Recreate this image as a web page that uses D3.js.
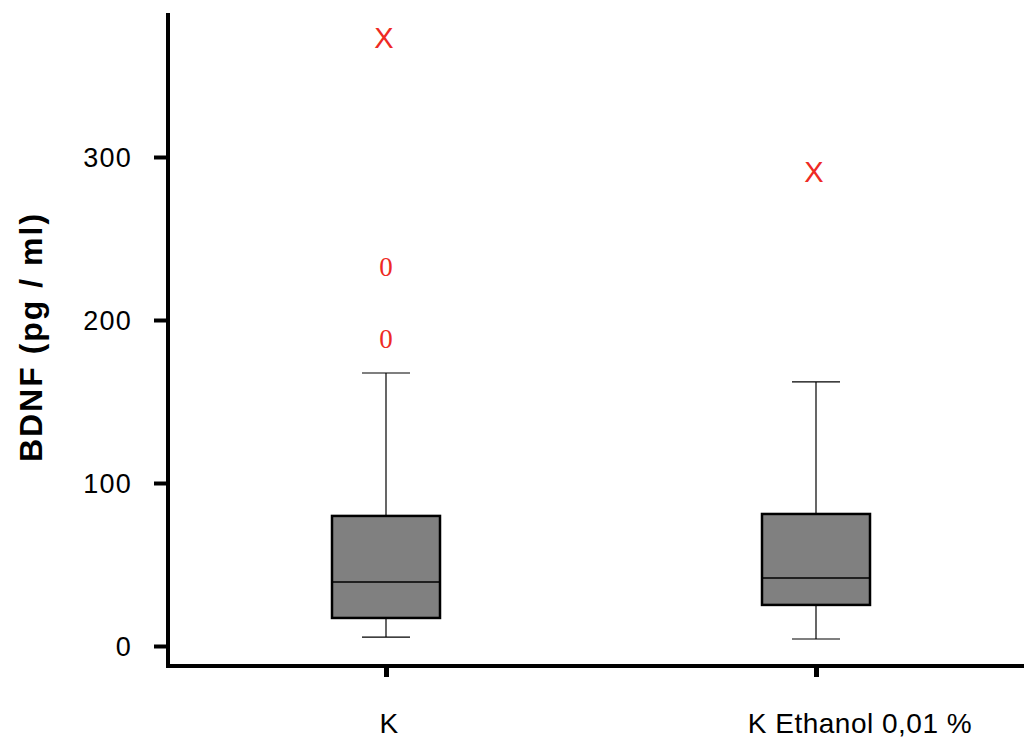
<!DOCTYPE html>
<html>
<head>
<meta charset="utf-8">
<script src="https://cdn.jsdelivr.net/npm/d3@7"></script>
<style>
  body { margin: 0; background: #fff; }
  svg { display: block; }
</style>
</head>
<body>
<svg id="chart" width="1024" height="738"></svg>
<script>
// Groups and their five-number summaries (pg/ml)
const categories = ["K", "K Ethanol 0,01 %"];
const whiskerLow = [5.5, 4.3];
const q1 = [17.2, 25.2];
const median = [39.3, 41.7];
const q3 = [79.8, 81.0];
const whiskerHigh = [167.5, 162.0];
// Outliers ("0") and extreme values ("X")
const outliers = [[188.3, 232.5], []];
const extremes = [[373.0], [290.8]];
const yTicks = [0, 100, 200, 300];
const yLabel = "BDNF (pg / ml)";

const svg = d3.select("#chart");
const sans = "Liberation Sans, Arial, Helvetica, sans-serif";

const y = d3.scaleLinear().domain([0, 300]).range([646, 157]);
const x = d3.scalePoint().domain(categories).range([386, 816]);

const axisX0 = 168, axisY0 = 666;
const boxHalf = 54, capHalf = 24;
// horizontal nudge of each category label relative to its tick
const labelShift = [3, 44];

// Axis spines
svg.append("line")
  .attr("x1", axisX0).attr("x2", axisX0)
  .attr("y1", 13).attr("y2", axisY0 + 2)
  .attr("stroke", "#000").attr("stroke-width", 4);
svg.append("line")
  .attr("x1", axisX0 - 2).attr("x2", 1024)
  .attr("y1", axisY0).attr("y2", axisY0)
  .attr("stroke", "#000").attr("stroke-width", 4);

// Y axis ticks and labels
const yAxis = d3.axisLeft(y).tickValues(yTicks).tickSize(14).tickPadding(22)
  .tickFormat(d3.format("d"));
const gy = svg.append("g").attr("transform", `translate(${axisX0},0)`).call(yAxis);
gy.select(".domain").remove();
gy.selectAll(".tick line").attr("stroke", "#000").attr("stroke-width", 4);
gy.selectAll(".tick text")
  .attr("fill", "#000")
  .attr("dy", "0.36em")
  .style("font-family", sans)
  .style("font-size", "27px")
  .style("letter-spacing", "1.2px");

// X axis ticks
const xAxis = d3.axisBottom(x).tickSize(11).tickFormat("");
const gx = svg.append("g").attr("transform", `translate(0,${axisY0})`).call(xAxis);
gx.select(".domain").remove();
gx.selectAll(".tick line").attr("stroke", "#000").attr("stroke-width", 5);

// X category labels
svg.append("g").selectAll("text")
  .data(categories)
  .join("text")
  .attr("x", (d, i) => x(d) + labelShift[i])
  .attr("y", 733)
  .attr("text-anchor", "middle")
  .attr("fill", "#000")
  .style("font-family", sans)
  .style("font-size", "28px")
  .style("letter-spacing", "0.5px")
  .text(d => d);

// Y axis title
svg.append("text")
  .attr("transform", "translate(42,337) rotate(-90)")
  .attr("text-anchor", "middle")
  .style("font-family", sans)
  .style("font-size", "32px")
  .style("font-weight", "bold")
  .style("letter-spacing", "2px")
  .text(yLabel);

// Boxes
const groups = svg.append("g").selectAll("g")
  .data(categories.map((c, i) => ({
    c, lo: whiskerLow[i], q1: q1[i], med: median[i], q3: q3[i], hi: whiskerHigh[i],
    out: outliers[i], ext: extremes[i]
  })))
  .join("g");

// whiskers
groups.append("line")
  .attr("x1", d => x(d.c)).attr("x2", d => x(d.c))
  .attr("y1", d => y(d.hi)).attr("y2", d => y(d.q3))
  .attr("stroke", "#000").attr("stroke-width", 1.2);
groups.append("line")
  .attr("x1", d => x(d.c)).attr("x2", d => x(d.c))
  .attr("y1", d => y(d.q1)).attr("y2", d => y(d.lo))
  .attr("stroke", "#000").attr("stroke-width", 1.2);
groups.append("line")
  .attr("x1", d => x(d.c) - capHalf).attr("x2", d => x(d.c) + capHalf)
  .attr("y1", d => y(d.hi)).attr("y2", d => y(d.hi))
  .attr("stroke", "#000").attr("stroke-width", 1.2);
groups.append("line")
  .attr("x1", d => x(d.c) - capHalf).attr("x2", d => x(d.c) + capHalf)
  .attr("y1", d => y(d.lo)).attr("y2", d => y(d.lo))
  .attr("stroke", "#000").attr("stroke-width", 1.2);

// box
groups.append("rect")
  .attr("x", d => x(d.c) - boxHalf)
  .attr("width", boxHalf * 2)
  .attr("y", d => y(d.q3))
  .attr("height", d => y(d.q1) - y(d.q3))
  .attr("fill", "#808080")
  .attr("stroke", "#000").attr("stroke-width", 2.5);

// median
groups.append("line")
  .attr("x1", d => x(d.c) - boxHalf).attr("x2", d => x(d.c) + boxHalf)
  .attr("y1", d => y(d.med)).attr("y2", d => y(d.med))
  .attr("stroke", "#000").attr("stroke-width", 1.4);

// outliers
groups.selectAll("text.out")
  .data(d => d.out.map(v => ({ c: d.c, v })))
  .join("text")
  .attr("class", "out")
  .attr("x", d => x(d.c))
  .attr("y", d => y(d.v))
  .attr("dy", "0.33em")
  .attr("text-anchor", "middle")
  .attr("fill", "#ee2a24")
  .style("font-family", "Liberation Serif, Times New Roman, serif")
  .style("font-size", "27px")
  .text("0");

// extremes
groups.selectAll("text.ext")
  .data(d => d.ext.map(v => ({ c: d.c, v })))
  .join("text")
  .attr("class", "ext")
  .attr("x", d => x(d.c) - 2)
  .attr("y", d => y(d.v))
  .attr("dy", "0.35em")
  .attr("text-anchor", "middle")
  .attr("fill", "#ee2a24")
  .style("font-family", sans)
  .style("font-size", "29px")
  .text("X");
</script>
</body>
</html>
